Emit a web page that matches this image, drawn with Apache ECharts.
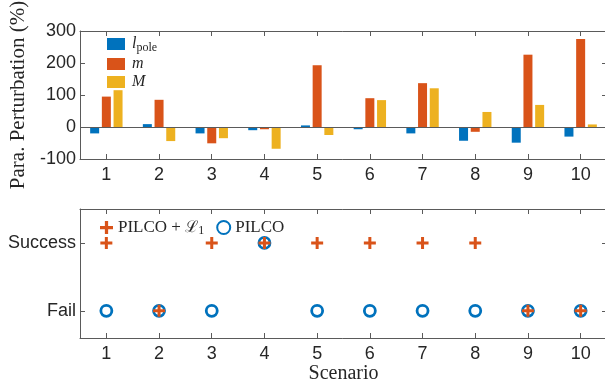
<!DOCTYPE html>
<html>
<head>
<meta charset="utf-8">
<script src="https://cdn.jsdelivr.net/npm/echarts@6/dist/echarts.min.js"></script>
<style>
html,body{margin:0;padding:0;background:#fff;}
#main{width:605px;height:385px;}
</style>
</head>
<body>
<div id="main"></div>
<script>
// scenario labels
var scenarios = ['1', '2', '3', '4', '5', '6', '7', '8', '9', '10'];
// parameter perturbation (%)
var lPole = [-20, 9, -20, -10, 5, -7, -20, -43, -49, -30];
var mPole = [95, 85, -51, -7, 193, 90, 137, -15, 226, 275];
var mCart = [115, -44, -35, -68, -25, 84, 121, 47, 69, 8];
// outcome: 1 = Success, 0 = Fail
var pilcoL1 = [1, 0, 1, 1, 1, 1, 1, 1, 0, 0];
var pilco = [0, 0, 0, 1, 0, 0, 0, 0, 0, 0];
var outcomeLabels = ['Fail', 'Success'];

var axisCol = '#5a5a5a';
var txtCol = '#262626';
var sans = 'Liberation Sans';
var serif = 'Liberation Serif';
var plusPath = 'path://M4.5,0H7.5V4.5H12V7.5H7.5V12H4.5V7.5H0V4.5H4.5Z';

var myChart = echarts.init(document.getElementById('main'));

//x轴
var catAxis = function(grid, pos, labels) {
	return {
		type: 'category', gridIndex: grid, position: pos, data: scenarios,
		axisLine: {show: true, onZero: false, lineStyle: {color: axisCol}},
		axisTick: {show: true, inside: true, alignWithLabel: true, length: 5, lineStyle: {color: axisCol}},
		axisLabel: {show: labels, margin: 7, fontFamily: sans, fontSize: 18, color: txtCol},
		splitLine: {show: false}
	};
};

var option = {
	animation: false,
	grid: [
		{left: 80, width: 527, top: 31, height: 128, outerBoundsMode: 'none', containLabel: false},
		{left: 80, width: 527, top: 209, height: 129, outerBoundsMode: 'none', containLabel: false}
	],
	legend: [
		{
			data: ['lpole', 'm', 'M'],
			orient: 'vertical', left: 102, top: 31,
			icon: 'rect', itemWidth: 18, itemHeight: 12, itemGap: 2,
			textStyle: {
				fontFamily: serif, fontStyle: 'italic', fontSize: 16, color: txtCol, padding: [0, 0, 0, 2],
				rich: {
					i: {fontFamily: serif, fontStyle: 'italic', fontSize: 16, color: txtCol},
					s: {fontFamily: serif, fontStyle: 'normal', fontSize: 12, color: txtCol, padding: [8, 0, 0, 0]}
				}
			},
			formatter: function(name) {
				if (name == 'lpole') return '{i|l}{s|pole}';
				return name;
			}
		},
		{
			data: ['PILCO + L1', 'PILCO'],
			left: 95, top: 214, itemGap: 12, itemWidth: 13, itemHeight: 15,
			textStyle: {
				fontFamily: serif, fontSize: 17, color: txtCol,
				rich: {
					n: {fontFamily: serif, fontSize: 17, color: txtCol},
					c: {fontFamily: 'DejaVu Serif', fontSize: 16, color: txtCol},
					s: {fontFamily: serif, fontSize: 12, color: txtCol, padding: [7, 0, 0, 0]}
				}
			},
			formatter: function(name) {
				if (name == 'PILCO + L1') return '{n|PILCO + }{c|ℒ}{s|1}';
				return '{n|' + name + '}';
			}
		}
	],
	xAxis: [
		catAxis(0, 'bottom', true),
		catAxis(0, 'top', false),
		(function() {
			var a = catAxis(1, 'bottom', true);
			a.name = 'Scenario';
			a.nameLocation = 'middle';
			a.nameGap = 26;
			a.nameTextStyle = {fontFamily: serif, fontSize: 20, color: txtCol};
			return a;
		})(),
		catAxis(1, 'top', false)
	],
	yAxis: [
		{
			type: 'value', gridIndex: 0, min: -100, max: 300, interval: 100,
			name: 'Para. Perturbation (%)', nameLocation: 'middle', nameGap: 50,
			nameTextStyle: {fontFamily: serif, fontSize: 21, color: txtCol},
			axisLine: {show: true, lineStyle: {color: axisCol}},
			axisTick: {show: true, inside: true, length: 5, lineStyle: {color: axisCol}},
			axisLabel: {margin: 4, fontFamily: sans, fontSize: 18, color: txtCol},
			splitLine: {show: false}
		},
		{
			type: 'value', gridIndex: 0, position: 'right', min: -100, max: 300, interval: 100,
			axisLine: {show: true, lineStyle: {color: axisCol}},
			axisTick: {show: true, inside: true, length: 5, lineStyle: {color: axisCol}},
			axisLabel: {show: false},
			splitLine: {show: false}
		},
		{
			type: 'value', gridIndex: 1, min: -0.4, max: 1.5,
			axisLine: {show: true, lineStyle: {color: axisCol}},
			axisTick: {show: true, inside: true, length: 5, customValues: [0, 1], lineStyle: {color: axisCol}},
			axisLabel: {
				margin: 4, fontFamily: sans, fontSize: 18, color: txtCol, customValues: [0, 1],
				formatter: function(v) { return outcomeLabels[Math.round(v)]; }
			},
			splitLine: {show: false}
		},
		{
			type: 'value', gridIndex: 1, position: 'right', min: -0.4, max: 1.5,
			axisLine: {show: true, lineStyle: {color: axisCol}},
			axisTick: {show: true, inside: true, length: 5, customValues: [0, 1], lineStyle: {color: axisCol}},
			axisLabel: {show: false},
			splitLine: {show: false}
		}
	],
	series: [
		{
			name: 'lpole', type: 'bar', xAxisIndex: 0, yAxisIndex: 0, data: lPole,
			barWidth: 9, barGap: '30%', itemStyle: {color: '#0072BD'},
			markLine: {
				silent: true, symbol: 'none', label: {show: false},
				lineStyle: {color: axisCol, type: 'solid', width: 1},
				data: [{yAxis: 0}]
			}
		},
		{
			name: 'm', type: 'bar', xAxisIndex: 0, yAxisIndex: 0, data: mPole,
			barWidth: 9, barGap: '30%', itemStyle: {color: '#D95319'}
		},
		{
			name: 'M', type: 'bar', xAxisIndex: 0, yAxisIndex: 0, data: mCart,
			barWidth: 9, barGap: '30%', itemStyle: {color: '#EDB120'}
		},
		{
			name: 'PILCO', type: 'scatter', xAxisIndex: 2, yAxisIndex: 2, data: pilco, z: 2,
			symbol: 'circle', symbolSize: 11,
			itemStyle: {color: 'rgba(0,0,0,0)', borderColor: '#0072BD', borderWidth: 2.8, opacity: 1}
		},
		{
			name: 'PILCO + L1', type: 'scatter', xAxisIndex: 2, yAxisIndex: 2, data: pilcoL1, z: 3,
			symbol: plusPath, symbolSize: 12,
			itemStyle: {color: '#D95319', opacity: 1}
		}
	]
};

myChart.setOption(option);
</script>
</body>
</html>
